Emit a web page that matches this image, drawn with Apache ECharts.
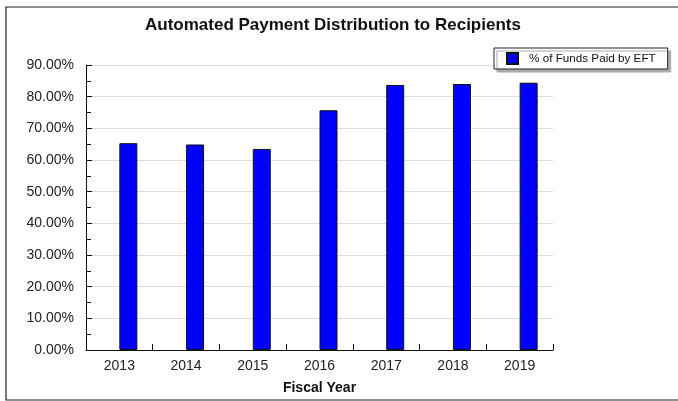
<!DOCTYPE html>
<html>
<head>
<meta charset="utf-8">
<script src="https://cdn.jsdelivr.net/npm/echarts@6/dist/echarts.min.js"></script>
<style>
  html, body { margin: 0; padding: 0; background: #fff; }
  #main { width: 678px; height: 401px; }
</style>
</head>
<body>
<div id="main"></div>
<script>
  // data
  var years = ['2013', '2014', '2015', '2016', '2017', '2018', '2019'];
  var eftShare = [65.3, 64.9, 63.5, 75.7, 83.7, 84.0, 84.4];
  var spacer = ['-', '-', '-', '-', '-', '-', '-']; // empty slot so bars sit right of the label

  var myChart = echarts.init(document.getElementById('main'));
  var option = {
    backgroundColor: '#fff',
    animation: false,
    title: {
      text: 'Automated Payment Distribution to Recipients',
      left: 145,
      top: 17,
      padding: 0,
      textStyle: { fontFamily: 'Liberation Sans', fontSize: 17, fontWeight: 'bold', color: '#111' }
    },
    // outer frame: open on the right like the original
    graphic: [{
      type: 'polyline',
      shape: { points: [[700, 7], [6, 7], [6, 400], [700, 400]] },
      style: { fill: 'none', stroke: '#222', lineWidth: 1.2 },
      z: 100
    }],
    legend: {
      data: ['% of Funds Paid by EFT'],
      left: 494,
      top: 48,
      padding: [4, 12, 4, 12],
      itemWidth: 11,
      itemHeight: 11,
      icon: 'rect',
      backgroundColor: '#fff',
      borderColor: '#222',
      borderWidth: 1,
      borderRadius: 0,
      shadowColor: '#aaa',
      shadowOffsetX: 3,
      shadowOffsetY: 3,
      shadowBlur: 0,
      textStyle: { fontFamily: 'Liberation Sans', fontSize: 11.7, color: '#111', padding: [0, 0, 0, 6] }
    },
    grid: { left: 86, right: 125, top: 65, bottom: 51 },
    xAxis: {
      type: 'category',
      data: years,
      name: 'Fiscal Year',
      nameLocation: 'middle',
      nameGap: 31,
      nameTextStyle: { fontFamily: 'Liberation Sans', fontSize: 14, fontWeight: 'bold', color: '#111' },
      axisLine: { lineStyle: { color: '#111', width: 1 } },
      axisTick: { show: true, inside: true, length: 6, lineStyle: { color: '#111' } },
      axisLabel: { margin: 9, fontFamily: 'Liberation Sans', fontSize: 14, color: '#222' }
    },
    yAxis: {
      type: 'value',
      min: 0,
      max: 90,
      interval: 10,
      axisLine: { show: true, lineStyle: { color: '#111', width: 1 } },
      axisTick: { show: true, inside: true, length: 6, lineStyle: { color: '#111' } },
      minorTick: { show: true, splitNumber: 2, length: 5, lineStyle: { color: '#111' } },
      splitLine: { show: true, lineStyle: { color: '#dcdcdc', width: 1 } },
      axisLabel: {
        margin: 12,
        fontFamily: 'Liberation Sans',
        fontSize: 14,
        color: '#222',
        formatter: function (v) { return v.toFixed(2) + '%'; }
      }
    },
    series: [{
      name: 'spacer',
      type: 'bar',
      data: spacer,
      barWidth: 18,
      barGap: '0%',
      silent: true
    }, {
      name: '% of Funds Paid by EFT',
      type: 'bar',
      data: eftShare,
      barWidth: 18,
      barGap: '0%',
      itemStyle: { color: '#0000ff', borderColor: '#111', borderWidth: 1 }
    }]
  };
  myChart.setOption(option);
</script>
</body>
</html>
